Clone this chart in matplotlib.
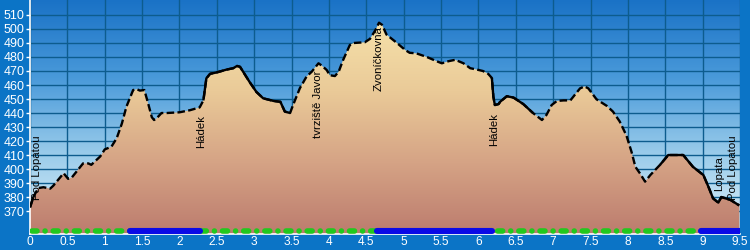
import numpy as np
import matplotlib
matplotlib.use("Agg")
import matplotlib.pyplot as plt
from matplotlib.colors import LinearSegmentedColormap

# ---- data ----
dist_km = [0.0, 0.045, 0.11, 0.18, 0.27, 0.31, 0.45, 0.51, 0.56, 0.71, 0.78, 0.82, 0.94, 1.0, 1.09,
           1.16, 1.23, 1.29, 1.38, 1.43, 1.47, 1.53, 1.58, 1.63, 1.66, 1.69, 1.76, 1.83, 2.0, 2.14,
           2.27, 2.32, 2.36, 2.41, 2.50, 2.63, 2.72, 2.77, 2.81, 2.94, 3.03, 3.12, 3.26, 3.35, 3.41,
           3.48, 3.52, 3.61, 3.70, 3.77, 3.86, 3.90, 3.97, 4.01, 4.08, 4.13, 4.19, 4.28, 4.33, 4.48,
           4.55, 4.62, 4.67, 4.71, 4.77, 4.91, 5.02, 5.08, 5.17, 5.31, 5.44, 5.51, 5.60, 5.69, 5.80,
           5.89, 5.98, 6.06, 6.13, 6.18, 6.20, 6.22, 6.27, 6.29, 6.38, 6.47, 6.60, 6.73, 6.85, 6.91,
           6.98, 7.05, 7.14, 7.23, 7.29, 7.36, 7.42, 7.47, 7.58, 7.72, 7.80, 7.89, 7.98, 8.05, 8.10,
           8.16, 8.23, 8.30, 8.43, 8.54, 8.74, 8.87, 9.01, 9.08, 9.14, 9.21, 9.25, 9.37, 9.49]
elev_m = [372.6, 380, 386.4, 387, 386, 388, 397, 393, 394, 404, 404, 403, 409, 414, 416,
          422, 432.6, 444.5, 456.4, 457, 456, 456.4, 447, 437, 435, 436, 440, 440, 440.5, 442,
          444, 449, 464.8, 468, 469, 471, 472, 473.6, 473, 462, 455, 450.5, 448.6, 448, 441,
          440, 445.7, 457.6, 466, 469.5, 475.5, 474, 470.7, 467, 466.4, 469.5, 477.9, 488.6, 490, 490.5,
          493, 499, 504.5, 503, 496, 490, 485, 483, 482.6, 480, 477, 475.5, 477, 478, 475.5,
          472, 471, 470, 468, 465, 451.6, 445.7, 446.4, 448, 452, 451, 446.4, 440, 435, 438.6,
          445.7, 448.6, 449, 449, 453, 457.6, 459, 457.6, 449.8, 445, 441, 434, 424, 412, 401.6,
          397, 391, 395.7, 403, 410, 410, 401.6, 395.7, 387, 379, 376, 380, 378, 374]

waypoint_names = ["Pod Lopatou", "Hádek", "tvrziště Javor", "Zvoníčkovna", "Hádek", "Lopata", "Pod Lopatou"]
waypoint_km = [0.094, 2.29, 3.85, 4.66, 6.21, 9.22, 9.41]
waypoint_label_elev = [401, 427, 446, 479, 428, 397, 401]

solid_ranges = [(0.0, 0.1), (2.28, 3.5), (6.18, 6.8), (8.4, 9.5)]
blue_ranges = [(1.34, 2.27), (4.64, 6.18), (8.98, 9.5)]

x_ticks = [i * 0.5 for i in range(20)]
x_tick_labels = ["0", "0.5", "1", "1.5", "2", "2.5", "3", "3.5", "4", "4.5", "5", "5.5",
                 "6", "6.5", "7", "7.5", "8", "8.5", "9", "9.5"]
y_ticks = list(range(370, 511, 10))

# ---- figure ----
outer = "#0B74C6"
fig = plt.figure(figsize=(7.5, 2.5), dpi=100, facecolor=outer)
ax = fig.add_axes([30 / 750, 16 / 250, 710 / 750, 234 / 250])
ymin, ymax = 353.6, 520.7
ax.set_xlim(0, 9.5)
ax.set_ylim(ymin, ymax)

# sky gradient
sky = LinearSegmentedColormap.from_list("sky", ["#DDF0FA", "#9CCDEB", "#4A9ADA", "#1A72C6"])
ax.imshow(np.linspace(0, 1, 256).reshape(-1, 1), cmap=sky, origin="lower", aspect="auto",
          extent=(0, 9.5, ymin, ymax), zorder=0)

# grid
for xv in x_ticks:
    ax.axvline(xv, color="#0D5C8E", lw=1, zorder=1)
for yv in y_ticks:
    ax.axhline(yv, color="#0D5C8E", lw=1, zorder=1)

# terrain gradient clipped to profile
x = np.array(dist_km)
y = np.array(elev_m)
poly = ax.fill_between(x, y, ymin, color="none", lw=0, zorder=2)
terrain = LinearSegmentedColormap.from_list("terrain", ["#BC7C6E", "#D5A385", "#EACA98", "#F6E2AA"])
im = ax.imshow(np.linspace(0, 1, 256).reshape(-1, 1), cmap=terrain, origin="lower", aspect="auto",
               extent=(0, 9.5, ymin, 506), zorder=2)
im.set_clip_path(poly.get_paths()[0], transform=ax.transData)

# profile line: dashed with solid stretches
ax.plot(x, y, color="black", lw=1.7, ls=(0, (3.2, 1.4)), zorder=4)
for a, b in solid_ranges:
    m = (x >= a - 1e-9) & (x <= b + 1e-9)
    ax.plot(x[m], y[m], color="black", lw=1.7, zorder=5, solid_capstyle="butt")

# bottom track-type bar
bar_y = 355.4
ax.plot([0.03, 9.47], [bar_y, bar_y], color="#22C81E", lw=4.0, ls=(0, (0.9, 1.45, 0.01, 1.45)),
        dash_capstyle="round", zorder=5)
for a, b in blue_ranges:
    ax.plot([a, b], [bar_y, bar_y], color="#0A0AE6", lw=4.4, solid_capstyle="round", zorder=6)

# waypoint labels
for name, xk, ye in zip(waypoint_names, waypoint_km, waypoint_label_elev):
    ax.text(xk, ye, name, rotation=90, ha="center", va="center", fontsize=8.2,
            family="Liberation Sans", color="black", zorder=7)

# axes styling
ax.set_xticks(x_ticks)
ax.set_xticklabels(x_tick_labels)
ax.set_yticks(y_ticks)
ax.tick_params(axis="y", colors="white", labelsize=9, length=3, width=1, pad=1)
ax.tick_params(axis="x", colors="white", labelsize=8.6, length=0, width=1, pad=1.5)
for lab in ax.get_xticklabels() + ax.get_yticklabels():
    lab.set_family("Liberation Sans")
for s in ["top", "right"]:
    ax.spines[s].set_visible(False)
for s in ["left", "bottom"]:
    ax.spines[s].set_color("white")
    ax.spines[s].set_linewidth(1.2)

fig.savefig("out.png", dpi=100, facecolor=outer)
